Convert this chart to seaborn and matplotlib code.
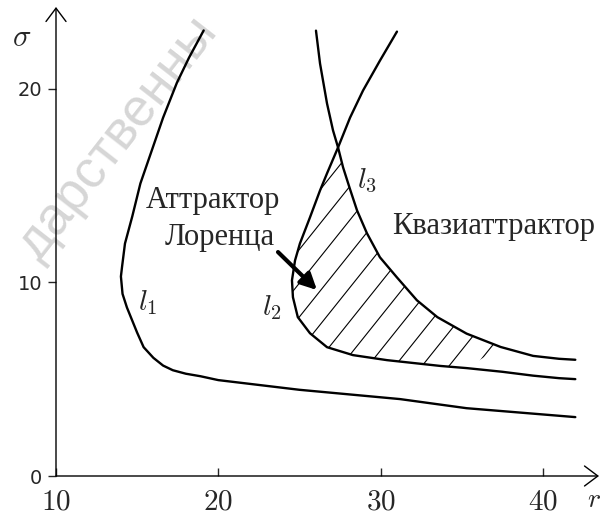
import numpy as np
import pandas as pd
import matplotlib
matplotlib.use("Agg")
import matplotlib.pyplot as plt
from matplotlib.patches import Polygon
import seaborn as sns

# curve l1 (r, sigma)
l1_r = [19.1, 18.2, 17.45, 16.6, 15.9, 15.2, 14.7, 14.25, 14.07, 14.0, 14.1, 14.37,
        15.0, 15.4, 16.0, 16.6, 17.2, 18.0, 18.9, 20.0, 25.0, 31.2, 35.3, 42.0]
l1_s = [23.0, 21.6, 20.3, 18.5, 16.8, 15.1, 13.4, 12.0, 10.8, 10.3, 9.4, 8.7,
        7.4, 6.65, 6.1, 5.7, 5.46, 5.28, 5.15, 4.95, 4.45, 3.97, 3.5, 3.04]

# curve l2
l2_r = [31.01, 29.96, 28.92, 28.12, 27.38, 26.70, 26.27, 25.65, 25.03, 24.73, 24.54,
        24.6, 24.9, 25.65, 26.7, 28.3, 30.4, 33.7, 35.3, 37.5, 39.4, 41.0, 42.0]
l2_s = [22.94, 21.44, 19.9, 18.5, 16.96, 15.62, 14.74, 13.35, 12.0, 11.13, 10.1,
        9.23, 8.2, 7.37, 6.65, 6.24, 5.98, 5.68, 5.57, 5.38, 5.18, 5.05, 5.0]

# curve l3
l3_r = [26.02, 26.27, 26.70, 27.07, 27.38, 27.69, 28.12, 28.55, 29.16, 29.96, 31.0,
        32.24, 33.5, 35.3, 37.4, 39.4, 41.0, 42.0]
l3_s = [22.99, 21.29, 19.23, 17.84, 16.96, 15.93, 14.8, 13.71, 12.53, 11.29, 10.26,
        9.07, 8.2, 7.35, 6.66, 6.2, 6.05, 6.0]

x_ticks = [10, 20, 30, 40]
y_ticks = [0, 10, 20]

sns.set_style("white")
plt.rcParams["mathtext.fontset"] = "cm"
plt.rcParams["font.family"] = ["DejaVu Sans"]

fig = plt.figure(figsize=(6.08, 5.14), dpi=100)
ax = fig.add_axes([56 / 608, 38 / 514, 543 / 608, 469 / 514])
ax.set_xlim(10, 43.46)
ax.set_ylim(0, 24.21)
ax.patch.set_visible(False)
for s in ax.spines.values():
    s.set_visible(False)

# watermark (visible part of it), kept under the curves
ax.text(118 / 608, 1 - 138 / 514, "дарственны", rotation=52, ha="center", va="center",
        fontsize=38, color="#d6d6d6", family="Liberation Sans", zorder=0,
        transform=fig.transFigure, clip_on=False)

for rr, ss in [(l1_r, l1_s), (l2_r, l2_s), (l3_r, l3_s)]:
    df = pd.DataFrame({"r": rr, "sigma": ss})
    sns.lineplot(data=df, x="r", y="sigma", sort=False, estimator=None,
                 color="black", lw=1.7, ax=ax, zorder=3)

# hatched region between l2 and l3 below their crossing
i2 = l2_r.index(27.38)
i3 = l3_r.index(27.38)
lo = [(r, s) for r, s in zip(l2_r[i2:], l2_s[i2:]) if r <= 35.5]
hi = [(r, s) for r, s in zip(l3_r[i3:], l3_s[i3:]) if r <= 37.5]
poly = Polygon(np.array(lo + hi[::-1]), closed=True, fc="none", ec="none")
ax.add_patch(poly)
slope = 1.25 * (543 / 469)
for x0 in np.arange(0.3132 - 0.0497 * 12, 1.0, 0.0497):
    ln, = ax.plot([x0, x0 + 1 / slope], [0, 1], transform=ax.transAxes,
                  color="black", lw=0.8)
    ln.set_clip_path(poly)

# axes with arrow heads
arrow = dict(arrowstyle="->,head_length=0.6,head_width=0.45", lw=1.0,
             color="black", shrinkA=0, shrinkB=0, mutation_scale=16)
ax.annotate("", xy=(43.46, 0), xytext=(10, 0), arrowprops=arrow, annotation_clip=False)
ax.annotate("", xy=(10, 24.21), xytext=(10, 0), arrowprops=arrow, annotation_clip=False)

ax.set_xticks(x_ticks)
ax.set_xticklabels([f"${t}$" for t in x_ticks], fontsize=21)
ax.set_yticks(y_ticks)
ax.set_yticklabels([str(t) for t in y_ticks], fontsize=14)
ax.tick_params(axis="x", direction="in", length=6, width=1.0, pad=8, bottom=True)
ax.tick_params(axis="y", direction="out", length=6, width=1.0, pad=4, left=True)
ax.set_xlabel("")
ax.set_ylabel("")

fig.text(22 / 608, 1 - 38 / 514, r"$\sigma$", fontsize=22, ha="center", va="center")
fig.text(594 / 608, 1 - 499 / 514, r"$r$", fontsize=20, ha="center", va="center")

ax.text(15.67, 8.93, r"$l_1$", fontsize=21, ha="center", va="center")
ax.text(23.3, 8.7, r"$l_2$", fontsize=21, ha="center", va="center")
ax.text(29.16, 15.26, r"$l_3$", fontsize=21, ha="center", va="center")

serif = dict(family="Liberation Serif", fontsize=22, ha="center", va="center")
ax.text(19.67, 14.2, "Аттрактор", **serif)
ax.text(20.07, 12.31, "Лоренца", **serif)
ax.text(36.96, 12.9, "Квазиаттрактор", **serif)

ax.annotate("", xy=(26.08, 9.6), xytext=(23.68, 11.56),
            arrowprops=dict(arrowstyle="-|>", lw=3, color="black",
                            mutation_scale=24, shrinkA=0, shrinkB=0))

fig.savefig("out.png", dpi=100, facecolor="white")
